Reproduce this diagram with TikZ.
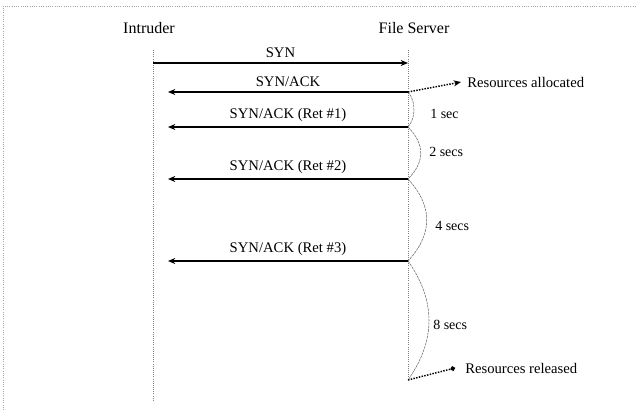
\documentclass[tikz,border=0pt]{standalone}
\usepackage{fontspec}
\setmainfont{Liberation Serif}
\usetikzlibrary{positioning, calc, arrows.meta}

\begin{document}
\begin{tikzpicture}[
  x=0.75pt, y=-0.75pt,
  font=\fontsize{10.5}{12}\selectfont,
  actor/.style={font=\fontsize{12}{14}\selectfont},
  lifeline/.style={densely dotted, gray, line width=0.6pt},
  msg/.style={line width=1.1pt, -{Stealth[length=5.5pt,width=4.5pt]}},
  msglabel/.style={above, font=\fontsize{11}{13}\selectfont},
  delay/.style={gray!80!black, line width=0.4pt, dash pattern=on 2pt off 0.6pt},
  note/.style={densely dotted, line width=1.1pt},
  notetext/.style={anchor=west, inner sep=0pt, font=\fontsize{11}{13}\selectfont},
  secs/.style={anchor=west, inner sep=0pt},
]
\useasboundingbox (0,0) rectangle (637,410);
% --- frame (top and left edges only show) ---
\draw[gray!70, densely dotted, line width=0.7pt] (3,410) -- (3,6) -- (637,6);

% --- actors ---
\node[actor] (Intruder) at (149,28) {Intruder};
\node[actor] (Server) at (414,28) {File Server};

% --- lifelines ---
\coordinate (IntTop) at (153,50);
\coordinate (IntBot) at (153,400);
\coordinate (SrvTop) at (408,50);
\coordinate (SrvBot) at (408,380);
\draw[lifeline] (IntTop) -- (IntBot);
\draw[lifeline] (SrvTop) -- (SrvBot);

% points on the server lifeline
\coordinate (Syn) at (408,63);
\coordinate (Ack) at (408,92);
\coordinate (Ret1) at (408,127);
\coordinate (Ret2) at (408,179);
\coordinate (Ret3) at (408,261);

% --- messages ---
\draw[msg] (IntTop |- Syn) -- (Syn) node[msglabel, midway] {SYN};
\draw[msg] (Ack) -- ($(IntTop |- Ack)+(15,0)$) node[msglabel, midway] {SYN/ACK};
\draw[msg] (Ret1) -- ($(IntTop |- Ret1)+(15,0)$) node[msglabel, midway] {SYN/ACK (Ret \#1)};
\draw[msg] (Ret2) -- ($(IntTop |- Ret2)+(15,0)$) node[msglabel, midway] {SYN/ACK (Ret \#2)};
\draw[msg] (Ret3) -- ($(IntTop |- Ret3)+(15,0)$) node[msglabel, midway] {SYN/ACK (Ret \#3)};

% --- timeouts between retransmissions ---
\draw[delay] (Ack) .. controls +(8,9) and +(8,-9) .. (Ret1);
\draw[delay] (Ret1) .. controls +(17,17) and +(17,-17) .. (Ret2);
\draw[delay] (Ret2) .. controls +(25,27) and +(25,-27) .. (Ret3);
\draw[delay] (Ret3) .. controls +(28,40) and +(28,-40) .. (SrvBot);
\node[secs] (OneSec) at (430,114) {1 sec};
\node[secs] (TwoSec) at (429,152) {2 secs};
\node[secs] (FourSec) at (435,226) {4 secs};
\node[secs] (EightSec) at (433,325) {8 secs};

% --- resource notes ---
\node[notetext] (Alloc) at (467,82) {Resources allocated};
\node[notetext] (Release) at (465,368) {Resources released};
\draw[note, -{Stealth[length=5.5pt,width=4.5pt]}] (Ack) -- ($(Alloc.west)+(-6,0)$);
\draw[note, -{Circle[length=3.5pt]}] (SrvBot) -- ($(Release.west)+(-10,0)$);
\end{tikzpicture}
\end{document}
